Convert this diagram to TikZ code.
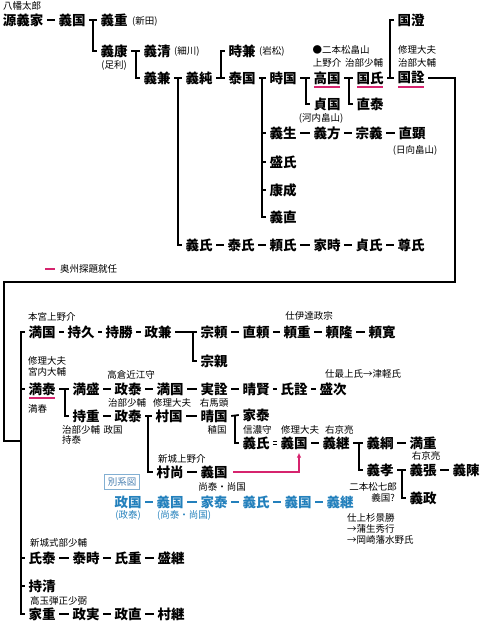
\documentclass[tikz,border=0pt]{standalone}
\usepackage{fontspec}
\newfontfamily\jp{Noto Sans CJK JP}
\usetikzlibrary{arrows.meta,calc,positioning}
\definecolor{kpink}{RGB}{214,36,110}
\definecolor{kblue}{RGB}{35,128,188}
\definecolor{kbox}{RGB}{130,175,210}
\definecolor{kboxtext}{RGB}{70,125,175}
\tikzset{
  nm/.style={font=\jp\bfseries\fontsize{13.5}{14}\selectfont, inner xsep=3.5pt, inner ysep=1pt},
  bnm/.style={nm, text=kblue},
  sm/.style={font=\jp\fontsize{9.5}{10}\selectfont, inner sep=0pt},
  bsm/.style={sm, text=kblue},
  ln/.style={line width=1.8pt},
  bln/.style={ln, draw=kblue},
  ul/.style={line width=1.5pt, draw=kpink},
}

\begin{document}
\begin{tikzpicture}[x=1pt, y=-1pt]
  \useasboundingbox (0,0) rectangle (483,622);

  % Upper tree
  \node[sm, anchor=west] (hachiman) at (3,6) {八幡太郎};
  \node[nm] (yoshiie) at (23,20) {源義家};
  \node[nm] (yoshikuni) at (72,20) {義国};
  \node[nm] (yoshishige) at (114,20) {義重};
  \node[sm, anchor=west] (nitta) at (132,21) {(新田)};
  \node[nm] (yoshiyasu) at (114,51) {義康};
  \node[sm] (ashikaga) at (114,65) {(足利)};
  \node[nm] (yoshikiyo) at (157,51) {義清};
  \node[sm, anchor=west] (hosokawa) at (174,51) {(細川)};
  \node[nm] (yoshikane) at (157,78) {義兼};
  \node[nm] (yoshizumi) at (199,78) {義純};
  \node[nm] (tokikane) at (242,51) {時兼};
  \node[sm, anchor=west] (iwamatsu) at (259,51) {(岩松)};
  \node[nm] (yasukuni) at (242,78) {泰国};
  \node[nm] (tokikuni) at (283,78) {時国};
  \node[nm] (takakuni) at (327,78) {高国};
  \node[nm] (kuniuji) at (370,78) {国氏};
  \node[nm] (kunizumi) at (411,20) {国澄};
  \node[nm] (kuniakira) at (411,78) {国詮};
  \node[sm] (nihonmatsu) at (341,50) {●二本松畠山};
  \node[sm] (kozuke) at (327,63) {上野介};
  \node[sm] (jibuA) at (364,63) {治部少輔};
  \node[sm, anchor=west] (shuriA) at (398,50) {修理大夫};
  \node[sm, anchor=west] (jibutaiyu) at (398,63) {治部大輔};
  \node[nm] (sadakuni) at (327,104) {貞国};
  \node[sm] (kawachi) at (321,118) {(河内畠山)};
  \node[nm] (naoyasu) at (370,104) {直泰};
  \node[nm] (yoshio) at (283,133) {義生};
  \node[nm] (yoshikata) at (327,133) {義方};
  \node[nm] (muneyoshi) at (369,133) {宗義};
  \node[nm] (naoaki) at (412,133) {直顕};
  \node[sm] (hyuga) at (415,150) {(日向畠山)};
  \node[nm] (moriuji) at (283,162) {盛氏};
  \node[nm] (yasunari) at (283,190) {康成};
  \node[nm] (yoshinao) at (283,217) {義直};
  \node[nm] (yoshiuji) at (199,245) {義氏};
  \node[nm] (yasuuji) at (241,245) {泰氏};
  \node[nm] (yoriuji) at (283,245) {頼氏};
  \node[nm] (ietoki) at (327,245) {家時};
  \node[nm] (sadauji) at (369,245) {貞氏};
  \node[nm] (takauji) at (411,245) {尊氏};

  % Legend
  \node[sm, anchor=west] (legend) at (60,269) {奥州探題就任};
  \draw[ul] ([xshift=-15pt]legend.west) -- ([xshift=-5pt]legend.west);

  % Upper connectors
  \draw[ln] (yoshiie.east) -- (yoshikuni.west);
  \draw[ln] (yoshikuni.east) -- (yoshishige.west);
  \draw[ln] ([xshift=-3.5pt]yoshishige.west) |- (yoshiyasu.west);
  \draw[ln] (yoshiyasu.east) -- (yoshikiyo.west);
  \draw[ln] ([xshift=-3.5pt]yoshikiyo.west) |- (yoshikane.west);
  \draw[ln] (yoshikane.east) -- (yoshizumi.west);
  \draw[ln] ([xshift=-3.5pt]yoshizumi.west) |- (yoshiuji.west);
  \draw[ln] (yoshizumi.east) -- (yasukuni.west);
  \draw[ln] ([xshift=-3.5pt]yasukuni.west) |- (tokikane.west);
  \draw[ln] (yasukuni.east) -- (tokikuni.west);
  \coordinate (bkT) at ([xshift=-3.5pt]tokikuni.west);
  \draw[ln] (bkT) |- (yoshinao.west);
  \foreach \n in {yoshio,moriuji,yasunari}
    \draw[ln] (bkT |- \n.west) -- (\n.west);
  \draw[ln] (tokikuni.east) -- (takakuni.west);
  \draw[ln] ([xshift=-3.5pt]takakuni.west) |- (sadakuni.west);
  \draw[ln] (takakuni.east) -- (kuniuji.west);
  \draw[ln] ([xshift=-3.5pt]kuniuji.west) |- (naoyasu.west);
  \draw[ln] (kuniuji.east) -- (kuniakira.west);
  \draw[ln] ([xshift=-3.5pt]kuniakira.west) |- (kunizumi.west);
  \draw[ln] (yoshio.east) -- (yoshikata.west);
  \draw[ln] (yoshikata.east) -- (muneyoshi.west);
  \draw[ln] (muneyoshi.east) -- (naoaki.west);
  \draw[ln] (yoshiuji.east) -- (yasuuji.west);
  \draw[ln] (yasuuji.east) -- (yoriuji.west);
  \draw[ln] (yoriuji.east) -- (ietoki.west);
  \draw[ln] (ietoki.east) -- (sadauji.west);
  \draw[ln] (sadauji.east) -- (takauji.west);

  % Lower tree
  \node[sm, anchor=west] (motomiya) at (28,317) {本宮上野介};
  \node[nm] (mitsukuni) at (42,332) {満国};
  \node[nm] (mochihisa) at (81,332) {持久};
  \node[nm] (mochikatsu) at (119,332) {持勝};
  \node[nm] (masakane) at (158,332) {政兼};
  \node[nm] (muneyori) at (214,332) {宗頼};
  \node[nm] (naoyori) at (256,332) {直頼};
  \node[nm] (yorishige) at (297,332) {頼重};
  \node[nm] (yoritaka) at (339,332) {頼隆};
  \node[nm] (yorihiro) at (382,332) {頼寛};
  \node[sm] (date) at (309,316) {仕伊達政宗};
  \node[nm] (munechika) at (214,361) {宗親};

  \node[sm, anchor=west] (shuriB) at (28,361) {修理大夫};
  \node[sm, anchor=west] (kunai) at (28,372) {宮内大輔};
  \node[nm] (mitsuyasu) at (42,389) {満泰};
  \node[sm, anchor=west] (mitsuharu) at (28,409) {満春};
  \node[nm] (mitsumori) at (86,389) {満盛};
  \node[sm] (takakura) at (131,375) {高倉近江守};
  \node[nm] (masayasuA) at (128,389) {政泰};
  \node[nm] (mitsukuniB) at (170,389) {満国};
  \node[nm] (sanenori) at (214,389) {実詮};
  \node[nm] (harukata) at (256,389) {晴賢};
  \node[nm] (ujinori) at (294,389) {氏詮};
  \node[nm] (moritsugu) at (333,389) {盛次};
  \node[sm, anchor=west] (mogami) at (325,374) {仕最上氏→津軽氏};

  \node[nm] (mochishige) at (86,416) {持重};
  \node[sm, anchor=west] (jibuB) at (62,430) {治部少輔};
  \node[sm, anchor=west] (mochiyasu) at (62,440) {持泰};
  \node[nm] (masayasuB) at (128,416) {政泰};
  \node[sm] (jibuC) at (127,403) {治部少輔};
  \node[sm] (masakuni) at (113,430) {政国};
  \node[nm] (murakuni) at (169,416) {村国};
  \node[sm] (shuriC) at (172,403) {修理大夫};
  \node[nm] (harukuni) at (214,416) {晴国};
  \node[sm] (umanokami) at (214,403) {右馬頭};
  \node[sm] (tanekuni) at (217,430) {稙国};
  \node[nm] (ieyasu) at (256,415) {家泰};
  \node[sm, anchor=west] (shinano) at (243,430) {信濃守};
  \node[nm] (yoshiujiB) at (256,443) {義氏};
  \node[nm] (yoshikuniC) at (294,443) {義国};
  \node[sm, anchor=west] (shuriD) at (281,430) {修理大夫};
  \node[nm] (yoshitsugu) at (336,443) {義継};
  \node[sm, anchor=west] (ukyoA) at (325,430) {右京亮};
  \node[nm] (yoshitsuna) at (380,443) {義綱};
  \node[nm] (mitsushige) at (423,443) {満重};
  \node[sm] (ukyoB) at (426,456) {右京亮};
  \node[nm] (yoshitaka) at (380,470) {義孝};
  \node[nm] (yoshiharu) at (423,470) {義張};
  \node[nm] (yoshinobu) at (466,470) {義陳};
  \node[nm] (yoshimasa) at (423,498) {義政};
  \node[sm, anchor=east] (shichiro) at (397,487) {二本松七郎};
  \node[sm, anchor=east] (yoshikuniQ) at (395,498) {義国?};

  \node[sm, anchor=west] (shinjoA) at (158,459) {新城上野介};
  \node[nm] (muranao) at (170,472) {村尚};
  \node[nm] (yoshikuniD) at (214,472) {義国};
  \node[sm] (naoyasuB) at (222,487) {尚泰・尚国};
  \node[sm, draw=kbox, line width=0.8pt, text=kboxtext, inner xsep=3.5pt, inner ysep=3pt] (betsu) at (122,482) {別系図};

  % Other lineage (blue)
  \node[bnm] (bmasakuni) at (128,502) {政国};
  \node[bsm] (bmasayasu) at (128,515) {(政泰)};
  \node[bnm] (byoshikuni) at (170,502) {義国};
  \node[bsm, anchor=west] (bnaoyasu) at (157,515) {(尚泰・尚国)};
  \node[bnm] (bieyasu) at (214,502) {家泰};
  \node[bnm] (byoshiuji) at (256,502) {義氏};
  \node[bnm] (byoshikuniB) at (298,502) {義国};
  \node[bnm] (byoshitsugu) at (340,502) {義継};

  \node[sm, anchor=west] (uesugi) at (347,518) {仕上杉景勝};
  \node[sm, anchor=west] (gamo) at (347,529) {→蒲生秀行};
  \node[sm, anchor=west] (okazaki) at (347,540) {→岡崎藩水野氏};

  \node[sm, anchor=west] (shinjoB) at (30,543) {新城式部少輔};
  \node[nm] (ujiyasu) at (42,558) {氏泰};
  \node[nm] (yasutoki) at (86,558) {泰時};
  \node[nm] (ujishige) at (128,558) {氏重};
  \node[nm] (moritsuguB) at (171,558) {盛継};
  \node[nm] (mochikiyo) at (42,586) {持清};
  \node[sm, anchor=west] (takatama) at (30,601) {高玉弾正少弼};
  \node[nm] (ieshige) at (42,614) {家重};
  \node[nm] (masazane) at (86,614) {政実};
  \node[nm] (masanao) at (128,614) {政直};
  \node[nm] (muratsugu) at (171,614) {村継};

  % Long link from upper to lower tree
  \coordinate (bkL) at ([xshift=-3.5pt]mitsukuni.west);
  \coordinate (turnR) at (455,282);
  \coordinate (join) at (4,441);
  \draw[ln] (kuniakira.east) -| (turnR) -| (join) -- (bkL |- join);

  % Lower connectors
  \draw[ln] (mitsukuni.west) -- (bkL) |- (ieshige.west);
  \foreach \n in {mitsuyasu,ujiyasu,mochikiyo}
    \draw[ln] (bkL |- \n.west) -- (\n.west);
  \draw[ln] (mitsukuni.east) -- (mochihisa.west);
  \draw[ln] (mochihisa.east) -- (mochikatsu.west);
  \draw[ln] (mochikatsu.east) -- (masakane.west);
  \draw[ln] (masakane.east) -- (muneyori.west);
  \draw[ln] ([xshift=-3.5pt]muneyori.west) |- (munechika.west);
  \draw[ln] (muneyori.east) -- (naoyori.west);
  \draw[ln] (naoyori.east) -- (yorishige.west);
  \draw[ln] (yorishige.east) -- (yoritaka.west);
  \draw[ln] (yoritaka.east) -- (yorihiro.west);

  \draw[ln] (mitsuyasu.east) -- (mitsumori.west);
  \draw[ln] ([xshift=-3.5pt]mitsumori.west) |- (mochishige.west);
  \draw[ln] (mitsumori.east) -- (masayasuA.west);
  \draw[ln] (masayasuA.east) -- (mitsukuniB.west);
  \draw[ln] (mitsukuniB.east) -- (sanenori.west);
  \draw[ln] (sanenori.east) -- (harukata.west);
  \draw[ln] (harukata.east) -- (ujinori.west);
  \draw[ln] (ujinori.east) -- (moritsugu.west);

  \draw[ln] (mochishige.east) -- (masayasuB.west);
  \draw[ln] (masayasuB.east) -- (murakuni.west);
  \draw[ln] ([xshift=-3.5pt]murakuni.west) |- (muranao.west);
  \draw[ln] (murakuni.east) -- (harukuni.west);
  \draw[ln] (harukuni.east) -- (ieyasu.west);
  \draw[ln] ([xshift=-3.5pt]ieyasu.west) |- (yoshiujiB.west);
  \draw[double, double distance=2.2pt, line width=0.6pt] (yoshiujiB.east) -- (yoshikuniC.west);
  \draw[ln] (yoshikuniC.east) -- (yoshitsugu.west);
  \draw[ln] (yoshitsugu.east) -- (yoshitsuna.west);
  \draw[ln] ([xshift=-3.5pt]yoshitsuna.west) |- (yoshitaka.west);
  \draw[ln] (yoshitsuna.east) -- (mitsushige.west);
  \draw[ln] (yoshitaka.east) -- (yoshiharu.west);
  \draw[ln] ([xshift=-3.5pt]yoshiharu.west) |- (yoshimasa.west);
  \draw[ln] (yoshiharu.east) -- (yoshinobu.west);
  \draw[ln] (muranao.east) -- (yoshikuniD.west);
  \draw[kpink, line width=1.2pt, -{Latex[length=5pt,width=4.5pt]}]
    ([xshift=2pt]yoshikuniD.east) -| ([xshift=5pt,yshift=-2pt]yoshikuniC.south);

  \draw[bln] (bmasakuni.east) -- (byoshikuni.west);
  \draw[bln] (byoshikuni.east) -- (bieyasu.west);
  \draw[bln] (bieyasu.east) -- (byoshiuji.west);
  \draw[bln] (byoshiuji.east) -- (byoshikuniB.west);
  \draw[bln] (byoshikuniB.east) -- (byoshitsugu.west);

  \draw[ln] (ujiyasu.east) -- (yasutoki.west);
  \draw[ln] (yasutoki.east) -- (ujishige.west);
  \draw[ln] (ujishige.east) -- (moritsuguB.west);
  \draw[ln] (ieshige.east) -- (masazane.west);
  \draw[ln] (masazane.east) -- (masanao.west);
  \draw[ln] (masanao.east) -- (muratsugu.west);

  % Underlines for 奥州探題
  \foreach \n in {takakuni,kuniuji,kuniakira,mitsuyasu}
    \draw[ul] ([xshift=4.5pt,yshift=-1.5pt]\n.south west) -- ([xshift=-4.5pt,yshift=-1.5pt]\n.south east);
\end{tikzpicture}
\end{document}
